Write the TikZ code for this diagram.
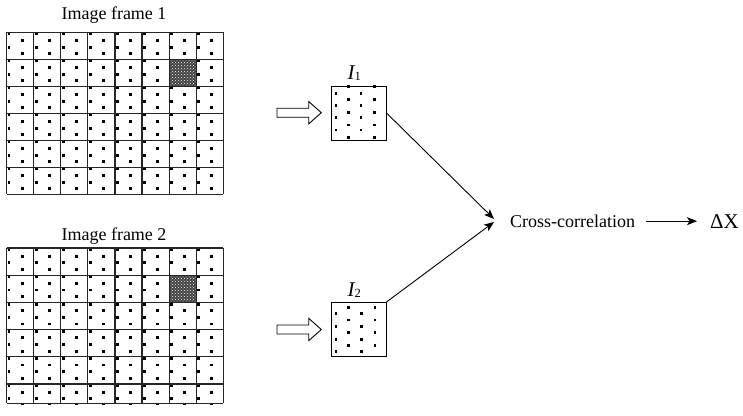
\documentclass[tikz,border=0pt]{standalone}
\usepackage{fontspec}
\setmainfont{Liberation Serif}
\usetikzlibrary{arrows.meta,patterns}
\begin{document}
\begin{tikzpicture}[x=1pt,y=-1pt,
  gridline/.style={line width=1.2pt, draw=black!85},
  conn/.style={line width=0.9pt, -{Stealth[length=10pt,width=8pt,inset=2.5pt]}},
  hollow/.style={draw=black, line width=0.9pt, fill=white},
  lbl/.style={font=\fontsize{18}{21}\selectfont, inner sep=0pt},
  winbox/.style={draw=black, line width=1pt, minimum width=55pt, minimum height=54pt, inner sep=0pt},
  sq/.pic={\fill (-1.4,-1.4) rectangle (1.4,1.4);},
  hollowarrow/.pic={\draw[hollow] (0,-4.5) -- (31.7,-4.5) -- (31.7,-11.2) -- (44.3,0) -- (31.7,11.2) -- (31.7,4.5) -- (0,4.5) -- cycle;},
  hatchcell/.style={preaction={fill=black!75}, pattern=crosshatch dots, pattern color=white}
]
\useasboundingbox (0,0) rectangle (743,415);

% ---------- Image frame 1 ----------
\node[lbl, anchor=base] (t1) at (114,19.3) {Image frame 1};
\foreach \i in {0,...,7} \foreach \j in {0,...,5} {
  \pgfmathsetmacro\cx{6.5+27.1*\i}
  \pgfmathsetmacro\cy{32.3+27*\j}
  \pic at (\cx+2.5,\cy+1.7) {sq};
  \pic at (\cx+2.5,\cy+14.8) {sq};
  \pic at (\cx+15.6,\cy+8.2) {sq};
  \pic at (\cx+15.6,\cy+21.5) {sq};
}
\fill[hatchcell] (169.1,59.3) rectangle (196.2,86.3);
\foreach \i in {0,...,8} \draw[gridline] (6.5+27.1*\i,32.3) -- (6.5+27.1*\i,194.3);
\foreach \j in {0,...,6} \draw[gridline] (6.5,32.3+27*\j) -- (223.3,32.3+27*\j);

% ---------- Image frame 2 ----------
\node[lbl, anchor=base] (t2) at (114,240) {Image frame 2};
\begin{scope}
\clip (4,246) rectangle (225,404);
\foreach \i in {0,...,7} \foreach \j in {0,...,5} {
  \pgfmathsetmacro\cx{6.5+27.1*\i}
  \pgfmathsetmacro\cy{248+27.2*\j}
  \pic at (\cx+2.5,\cy+1.7) {sq};
  \pic at (\cx+2.5,\cy+14.8) {sq};
  \pic at (\cx+15.6,\cy+8.2) {sq};
  \pic at (\cx+15.6,\cy+21.5) {sq};
}
\end{scope}
\fill[hatchcell] (169.1,275.2) rectangle (196.2,302.4);
\foreach \i in {0,...,8} \draw[gridline] (6.5+27.1*\i,248) -- (6.5+27.1*\i,403.3);
\foreach \j in {0,...,5} \draw[gridline] (6.5,248+27.2*\j) -- (223.3,248+27.2*\j);
\draw[gridline] (6.5,403.3) -- (223.3,403.3);

% ---------- hollow arrows ----------
\pic at (277,112.7) {hollowarrow};
\pic at (277,329.5) {hollowarrow};

% ---------- windows ----------
\node[winbox] (i1) at (358.5,113) {};
\node[winbox] (i2) at (358.5,329.5) {};
\foreach \x in {336,361} \foreach \y in {93.3,105.7,117.3,130} \pic at (\x,\y) {sq};
\foreach \x in {348.3,374.3} \foreach \y in {86.7,99.3,112.3,125,137.3} \pic at (\x,\y) {sq};
\foreach \x in {336,361.7} \foreach \y in {313.3,326.7,339.3,351.7} \pic at (\x,\y) {sq};
\foreach \x in {348.3,375} \foreach \y in {307.3,320,332.7,345.7} \pic at (\x,\y) {sq};

\node[inner sep=0pt, anchor=base west] (l1) at (347.5,79.3)
  {{\fontsize{21}{24}\selectfont\itshape I}\raisebox{-1.6pt}{\fontsize{12.5}{14}\selectfont 1}};
\node[inner sep=0pt, anchor=base west] (l2) at (347.5,296)
  {{\fontsize{21}{24}\selectfont\itshape I}\raisebox{-1.6pt}{\fontsize{12.5}{14}\selectfont 2}};

% ---------- cross-correlation ----------
\node[lbl, anchor=base west] (cc) at (510,227.3) {Cross-correlation};
\node[inner sep=0pt, anchor=base west, font=\fontsize{21}{24}\selectfont] (dx) at (710,228.3) {ΔX};
\coordinate (m1) at (494,219);
\coordinate (m2) at (494,222);
\draw[conn] (i1.east) -- (m1);
\draw[conn] (i2.north east) -- (m2);
\draw[conn] ([xshift=11pt]cc.east) -- ([xshift=-13pt]cc.east -| dx.west);
\end{tikzpicture}
\end{document}
